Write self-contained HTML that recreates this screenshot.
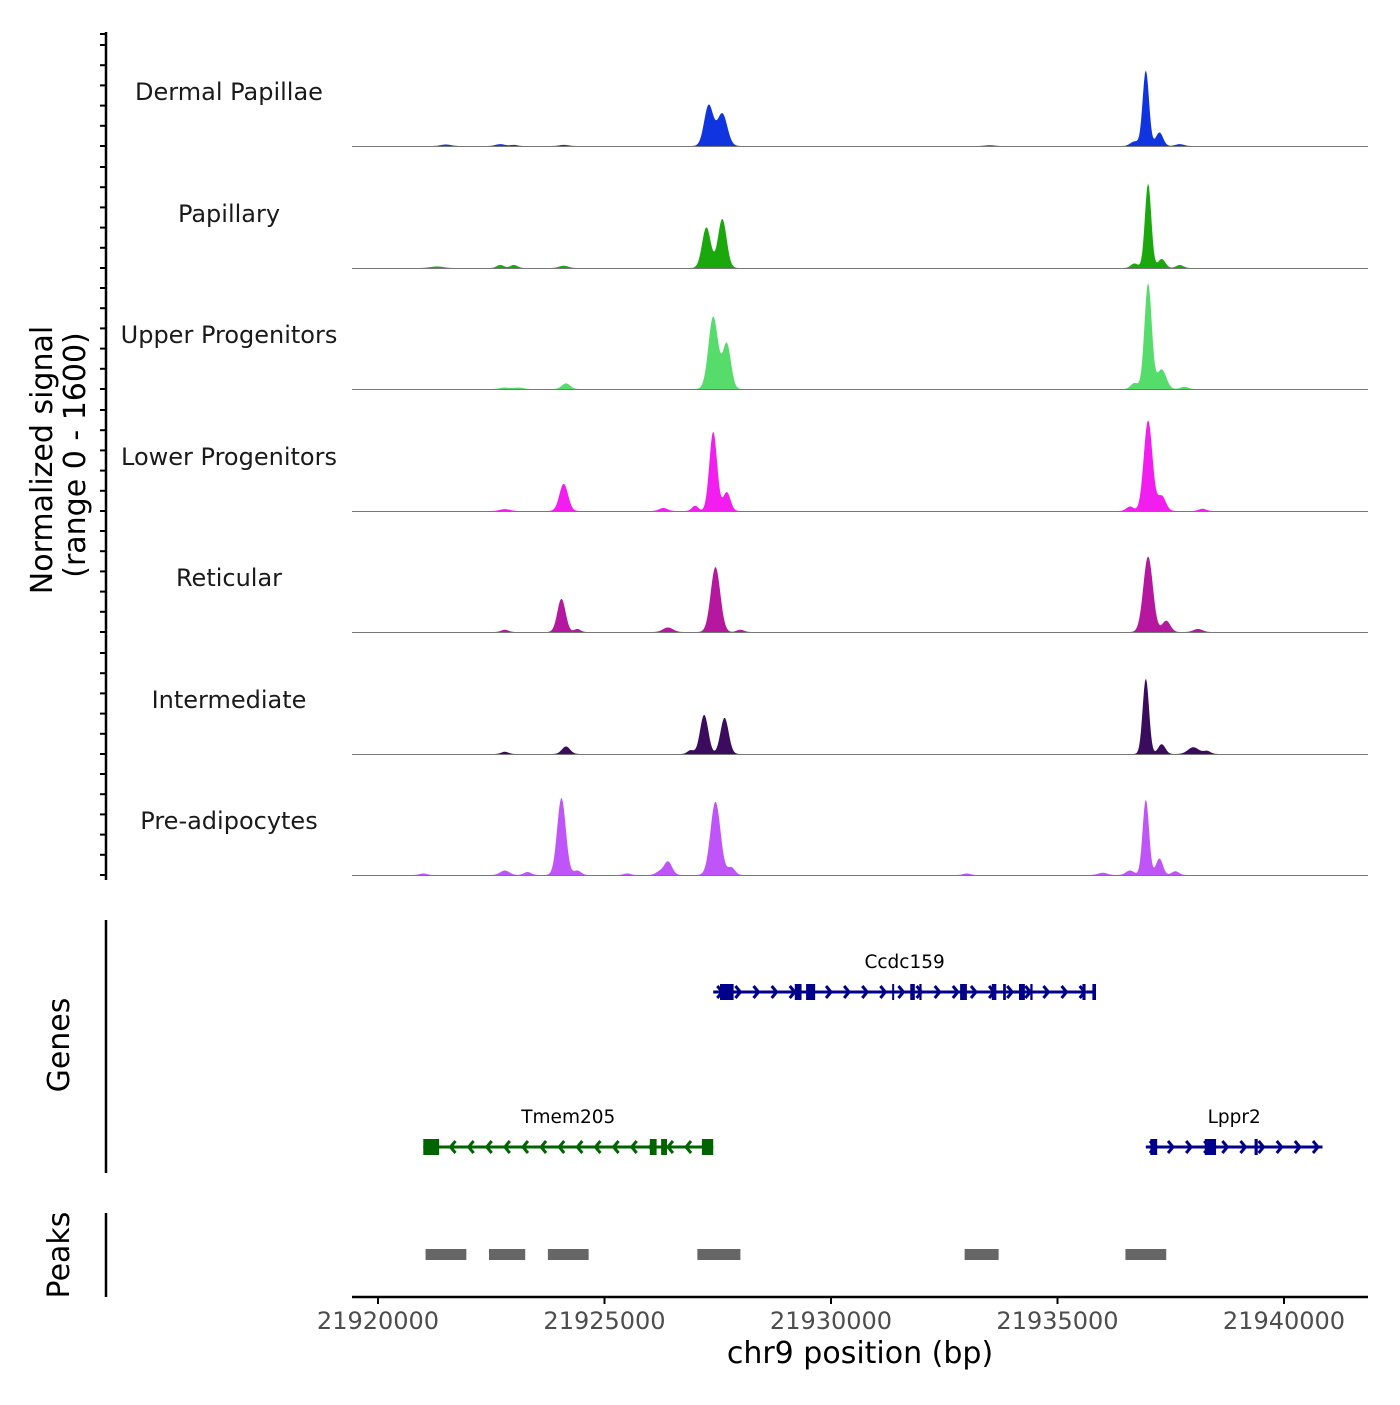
<!DOCTYPE html>
<html><head><meta charset="utf-8"><style>
body{margin:0;background:#fff;}
svg{font-family:"DejaVu Sans","Liberation Sans",sans-serif;}
</style></head><body>
<svg id="chart" width="1400" height="1400" viewBox="0 0 1400 1400" xmlns="http://www.w3.org/2000/svg">
<g id="tracks"></g>
<g id="genes"></g>
<g id="peaks"></g>
<g id="axes"></g>
</svg>
<script>
const trackNames=["Dermal Papillae","Papillary","Upper Progenitors","Lower Progenitors","Reticular","Intermediate","Pre-adipocytes"];
const trackColors=["#1035e0","#1aa80c","#56dc6a","#f21ef0","#b5179e","#3b0c5e","#bf55f8"];
// peaks per track: [center bp, height (0-1600 scale), sigma bp]
const peaksDP=[[21921500,20,110],[21922700,25,100],[21923000,15,80],[21924100,15,100],[21927300,540,100],[21927600,430,110],[21933500,10,100],[21936700,60,90],[21936950,1000,70],[21937250,180,80],[21937700,25,90]];
const peaksPap=[[21921300,20,140],[21922700,40,80],[21923000,40,80],[21924100,30,100],[21927250,540,95],[21927600,650,95],[21937000,1120,70],[21936700,60,80],[21937300,120,80],[21937700,40,80]];
const peaksUpper=[[21922800,20,100],[21923100,20,100],[21924150,75,90],[21927400,960,105],[21927700,600,90],[21937000,1400,80],[21937300,260,100],[21936700,80,80],[21937800,30,80]];
const peaksLower=[[21922800,25,110],[21924100,360,95],[21926300,40,90],[21927000,70,70],[21927400,1050,85],[21927700,250,80],[21937000,1200,95],[21937300,200,90],[21936600,60,80],[21938200,30,80]];
const peaksRet=[[21922800,30,80],[21924050,440,90],[21924400,40,70],[21926400,60,110],[21927450,860,105],[21928000,30,80],[21937000,1000,105],[21937400,150,90],[21938100,40,100]];
const peaksInt=[[21922800,30,80],[21924150,100,90],[21927200,520,90],[21927650,480,90],[21926900,50,70],[21936950,1000,70],[21937300,130,80],[21938000,90,120],[21938300,40,80]];
const peaksPre=[[21921000,20,80],[21922800,60,100],[21923300,40,80],[21924050,1020,95],[21924400,60,80],[21925500,20,80],[21926200,40,80],[21926400,180,90],[21927450,970,110],[21927800,100,80],[21933000,20,80],[21936000,30,100],[21936600,60,90],[21936950,1000,70],[21937250,220,75],[21937600,50,80]];
const allPeaks=[peaksDP,peaksPap,peaksUpper,peaksLower,peaksRet,peaksInt,peaksPre];
const xTicks=[21920000,21925000,21930000,21935000,21940000];
const peakStarts=[21921050,21922450,21923750,21927050,21932950,21936500];
const peakEnds=[21921950,21923250,21924650,21928000,21933700,21937400];
const genes=[
 {name:"Ccdc159",start:21927400,end:21935850,strand:1,row:0,color:"#00008b",
  exons:[[21927550,21927850],[21929200,21929350],[21929450,21929650],[21931350,21931380],[21931750,21931850],[21931950,21932000],[21932850,21933000],[21933550,21933650],[21933800,21933860],[21934150,21934280],[21934400,21934450],[21935550,21935620],[21935770,21935850]]},
 {name:"Tmem205",start:21921000,end:21927400,strand:-1,row:1,color:"#006400",
  exons:[[21921000,21921350],[21926000,21926150],[21926250,21926380],[21927150,21927400]]},
 {name:"Lppr2",start:21936950,end:21940850,strand:1,row:1,color:"#00008b",
  exons:[[21937050,21937200],[21938250,21938500],[21939350,21939420]]}
];
const X0=352,X1=1368;
function xs(bp){return 378+(bp-21920000)*0.0453;}
const baselines=[146,268,389,511,632,754,875];
function ys(v,i){return baselines[i]-v*121/1600;}
const NS="http://www.w3.org/2000/svg";
function mk(tag,attrs,parent){const e=document.createElementNS(NS,tag);for(const k in attrs)e.setAttribute(k,attrs[k]);parent.appendChild(e);return e;}
const gT=document.getElementById('tracks');
allPeaks.forEach((pk,i)=>{
  let d="M"+X0+","+baselines[i];
  for(let x=X0;x<=X1;x+=1){
    const bp=21920000+(x-378)/0.0453;
    let v=0;pk.forEach(p=>{const z=(bp-p[0])/p[2];v+=p[1]*Math.exp(-0.5*z*z);});
    d+=" L"+x+","+ys(v,i).toFixed(2);
  }
  d+=" L"+X1+","+baselines[i]+" Z";
  const p=mk('path',{d:d,fill:trackColors[i]},gT);
  
  
  const l=mk('line',{x1:X0,x2:X1,y1:baselines[i]+0.5,y2:baselines[i]+0.5,stroke:"#777","stroke-width":1},gT);
  
  
  const t=mk('text',{x:229,y:baselines[i]-46,"font-size":24,"text-anchor":"middle",fill:"#1a1a1a"},gT);
  t.textContent=trackNames[i];
  
  
});
const gG=document.getElementById('genes');
genes.forEach(g=>{
  const y=g.row===0?992:1147, c=g.color;
  const ln=mk('line',{x1:xs(g.start),x2:xs(g.end),y1:y,y2:y,stroke:c,"stroke-width":3},gG);
  
  
  for(let bp=g.start+200;bp<g.end;bp+=400){
    const x=xs(bp),s=g.strand*5;
    const a=mk('path',{d:`M${x-s},${y-6} L${x},${y} L${x-s},${y+6}`,stroke:c,"stroke-width":3,fill:"none"},gG);
    
    
  }
  g.exons.forEach(e=>{
    const r=mk('rect',{x:xs(e[0]),y:y-8,width:Math.max(2,xs(e[1])-xs(e[0])),height:16,fill:c},gG);
    
    
  });
  const t=mk('text',{x:(xs(g.start)+xs(g.end))/2,y:y-24,"font-size":18.5,"text-anchor":"middle",fill:"#000"},gG);
  t.textContent=g.name;
  
  
});
const gP=document.getElementById('peaks');
peakStarts.forEach((s,i)=>{
  const r=mk('rect',{x:xs(s),y:1249,width:xs(peakEnds[i])-xs(s),height:11,fill:"#666"},gP);
  
  
});
const gA=document.getElementById('axes');
function line(x1,y1,x2,y2,name,w){const l=mk('line',{x1,y1,x2,y2,stroke:"#000","stroke-width":w||2.5},gA);return l;}
line(106,32,106,880,'signal-y-axis');
line(106,920,106,1173,'genes-y-axis');
line(106,1213,106,1297,'peaks-y-axis');
line(X0,1297,X1,1297,'x-axis');
baselines.forEach(b=>{for(let k=0;k<6;k++){const y=b-k*20.2;line(100,y,106,y,'y-tick',2);}});
line(100,34,106,34,'y-tick',2);
xTicks.forEach(v=>{
  line(xs(v),1297,xs(v),1304,'x-tick',2);
  const t=mk('text',{x:xs(v),y:1329,"font-size":24,"text-anchor":"middle",fill:"#4d4d4d"},gA);
  t.textContent=String(v);
  
  
});
function title(txt,x,y,rot,name,size){const t=mk('text',{x,y,"font-size":size||30,"text-anchor":"middle",fill:"#000",transform:rot?`rotate(-90 ${x} ${y})`:""},gA);t.textContent=txt;}
title("chr9 position (bp)",860,1363,false,'x-axis-title');
title("Normalized signal",52,460,true,'y-axis-title');
title("(range 0 - 1600)",85,455,true,'y-axis-subtitle');
title("Genes",69,1045,true,'genes-axis-title');
title("Peaks",69,1255,true,'peaks-axis-title');
</script>
</body></html>
